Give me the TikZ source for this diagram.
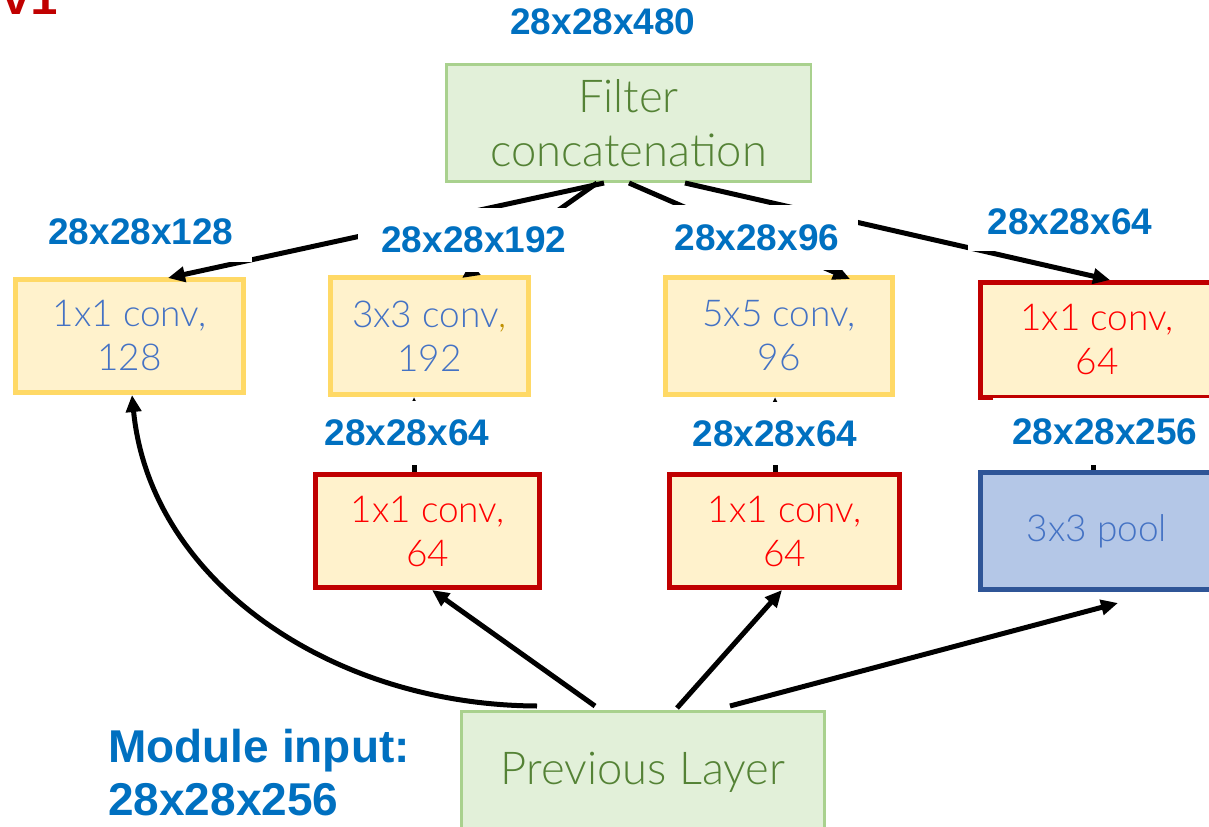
\documentclass[tikz,border=0pt]{standalone}
\usepackage{fontspec}
\setmainfont{Noto Sans}
\newfontfamily\lightfont{Lato Light}
\newfontfamily\labelfont{Liberation Sans}
\newfontfamily\codefont{Liberation Mono}
\usetikzlibrary{arrows.meta,calc}

\definecolor{lblue}{HTML}{0070C0}
\definecolor{tblue}{HTML}{4472C4}
\definecolor{ybord}{HTML}{FFD966}
\definecolor{yfill}{HTML}{FFF2CC}
\definecolor{rbord}{HTML}{C00000}
\definecolor{rtext}{HTML}{FF0000}
\definecolor{gfill}{HTML}{E2F0D9}
\definecolor{gbord}{HTML}{A9D18E}
\definecolor{gtext}{HTML}{548235}
\definecolor{pfill}{HTML}{B4C7E7}
\definecolor{pbord}{HTML}{2F5597}
\definecolor{gold}{HTML}{BF9000}

\tikzset{
  boxtext/.style={font=\lightfont\fontsize{27.75pt}{33pt}\selectfont, align=center, inner sep=0pt},
  yconv/.style={boxtext, draw=ybord, fill=yfill, line width=3.75pt, text=tblue},
  rconv/.style={boxtext, draw=rbord, fill=yfill, line width=3.75pt, text=rtext},
  poolbox/.style={boxtext, draw=pbord, fill=pfill, line width=3.75pt, text=tblue},
  layerbox/.style={draw=gbord, fill=gfill, line width=1.9pt, text=gtext, align=center, inner sep=0pt,
    font=\lightfont\fontsize{34pt}{40.5pt}\selectfont},
  dimlabel/.style={fill=white, inner sep=0pt, text=lblue,
    font=\labelfont\bfseries\fontsize{27.75pt}{33pt}\selectfont},
  biglabel/.style={inner sep=0pt, text=lblue, anchor=base west,
    font=\labelfont\bfseries\fontsize{34.5pt}{40pt}\selectfont},
  arr/.style={line width=3.75pt, -{Triangle[length=12.75pt,width=11.25pt]}},
}

\begin{document}
\begin{tikzpicture}[x=0.75pt,y=-0.75pt]
\useasboundingbox (0,0) rectangle (1209,827);

% title fragment in the corner
\node[anchor=base west, inner sep=0pt, text=rbord,
      font=\codefont\bfseries\fontsize{35pt}{40pt}\selectfont] (ver) at (2,15) {v1};

% layers
\node[layerbox, minimum width=273.4pt, minimum height=88.1pt] (filt) at (628.5,123) {Filter\\concatenation};
\node[layerbox, minimum width=272.6pt, minimum height=91.1pt] (prev) at (643,772) {Previous Layer};

% first row of branches
\node[yconv, minimum width=171pt,    minimum height=84.75pt] (A) at (129.5,336) {1x1 conv,\\128};
\node[yconv, minimum width=148.5pt,  minimum height=87.75pt] (B) at (429.5,336) {3x3 conv{\color{gold},}\\192};
\node[yconv, minimum width=170.25pt, minimum height=87.75pt] (C) at (779,336)   {5x5 conv,\\96};
\node[rconv, minimum width=174.75pt, minimum height=86.25pt] (D) at (1097,340)  {1x1 conv,\\64};

% second row of branches
\node[rconv,   minimum width=168pt,    minimum height=84.75pt] (E) at (427.5,531) {1x1 conv,\\64};
\node[rconv,   minimum width=172.5pt,  minimum height=84.75pt] (F) at (784.5,531) {1x1 conv,\\64};
\node[poolbox, minimum width=174.75pt, minimum height=87.75pt] (G) at (1097,531)  {3x3 pool};

% connectors into the concatenation outputs
\draw[arr] ($(filt.south)+(-24.5,0)$) -- ($(A.north)+(38.5,1)$);
\draw[arr] ($(filt.south)+(-31.5,0)$) -- ($(B.north)+(32.5,3)$);
\draw[arr] ($(filt.south)+(0.5,0)$)   -- ($(C.north)+(71,4)$);
\draw[arr] ($(filt.south)+(56.5,0)$)  -- ($(D.north)+(13,0)$);

% reductions feeding the larger convolutions and the pool projection
\draw[arr] ($(E.north)+(-13.5,0)$) -- ($(B.south)+(-15.5,0)$);
\draw[arr] ($(F.north)+(-9.5,0)$)  -- ($(C.south)+(-4,0)$);
\draw[arr] ($(G.north)+(-4,0)$)    -- ($(D.south)+(-4,0)$);

% connectors from the previous layer
\draw[arr] ($(prev.north)+(-106,-4)$) .. controls (330,705) and (150,580) .. ($(A.south)+(2.5,0)$);
\draw[arr] ($(prev.north)+(-48,-4)$) -- ($(E.south)+(4.5,0)$);
\draw[arr] ($(prev.north)+(34,-2)$)  -- ($(F.south)+(-2.5,0)$);
\draw[arr] ($(prev.north)+(87,-4)$)  -- ($(G.south)+(21,11)$);

% tensor sizes
\node[dimlabel] (d480) at (603,22) {28x28x480};
\node[dimlabel, minimum width=166.5pt, minimum height=45pt]   (d128) at (141,232)   {28x28x128};
\node[dimlabel, minimum width=174pt,   minimum height=47.25pt] (d192) at (474,240)   {28x28x192};
\node[dimlabel, minimum width=151.5pt, minimum height=48.75pt] (d96)  at (757,237.5) {28x28x96};
\node[dimlabel, minimum width=153pt,   minimum height=43.5pt]  (d64a) at (1070,222)  {28x28x64};
\node[dimlabel, minimum width=135pt,   minimum height=48pt]    (d64b) at (407,433)   {28x28x64};
\node[dimlabel, minimum width=127.5pt, minimum height=47.25pt] (d64c) at (775,433.5) {28x28x64};
\node[dimlabel, minimum width=168pt,   minimum height=50.25pt] (d256) at (1105,431.5) {28x28x256};

% module input size
\node[biglabel] (inp)  at (108,762) {Module input:};
\node[biglabel] (inpd) at (108,815) {28x28x256};
\end{tikzpicture}
\end{document}
